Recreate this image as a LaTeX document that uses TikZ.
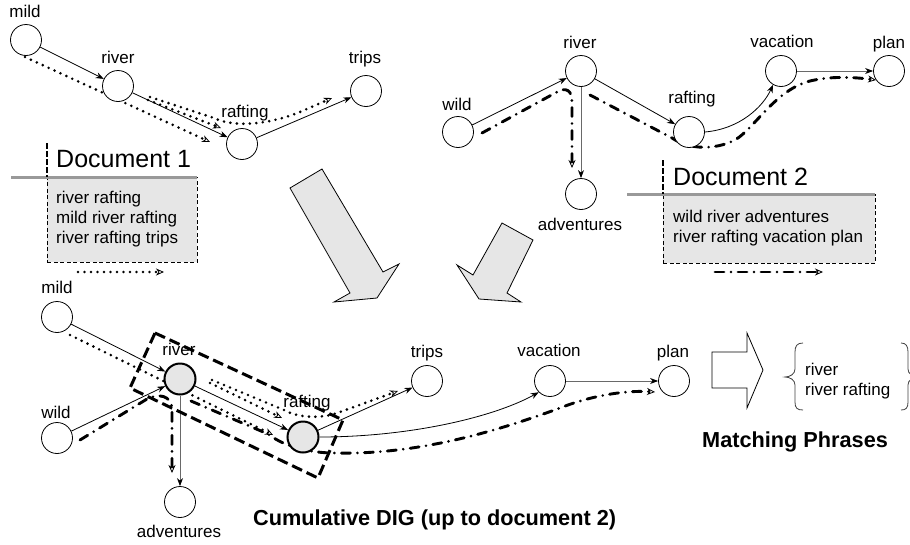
\documentclass[tikz,border=0pt]{standalone}
\usepackage{fontspec}
\setmainfont{Liberation Sans}
\usetikzlibrary{arrows.meta,calc}
\pgfdeclarelayer{edges}
\pgfsetlayers{edges,main}
\definecolor{panel}{RGB}{230,230,230}
\definecolor{rulegray}{RGB}{153,153,153}
\definecolor{edgegray}{RGB}{105,105,105}
\begin{document}
\begin{tikzpicture}[x=1pt,y=-1pt,
  word/.style={circle,draw,fill=white,line width=0.8pt,minimum size=31pt,inner sep=0pt},
  hot/.style={word,fill=panel,line width=2pt},
  lbl/.style={font=\fontsize{17}{20}\selectfont,inner sep=0pt,anchor=base},
  txt/.style={font=\fontsize{17}{20}\selectfont,inner sep=0pt,anchor=base west},
  doctitle/.style={font=\fontsize{25}{30}\selectfont,inner sep=0pt,anchor=base west},
  caption/.style={font=\bfseries\fontsize{21.7}{26}\selectfont,inner sep=0pt,anchor=base west},
  link/.style={line width=0.8pt,-{Stealth[length=8pt,width=6pt,inset=2.5pt,color=black]}},
  glink/.style={link,draw=edgegray},
  opentip/.style={-{Stealth[open,length=8pt,width=7pt,inset=2.5pt,line width=0.8pt,fill=white]}},
  dotp/.style={opentip,line width=2.9pt,line cap=round,dash pattern=on 0pt off 6.5pt},
  dashdotp/.style={opentip,line width=2.9pt,line cap=round,dash pattern=on 9pt off 7pt on 0pt off 7pt},
  docbox/.style={fill=panel,draw,line width=0.7pt,dash pattern=on 4pt off 2.5pt},
  docrule/.style={draw=rulegray,line width=3pt},
  docmark/.style={line width=2.5pt,dash pattern=on 6pt off 2pt},
  frame/.style={line width=3pt,dash pattern=on 11pt off 5pt},
  bigarrow/.style={fill=panel,draw,line width=0.8pt,line join=miter},
  bracepath/.style={draw=black!75,line width=0.8pt}]
\useasboundingbox (0,0) rectangle (910,544);

% ---------- document 1 graph ----------
\node[word] (a1) at (26,40) {};
\node[word] (a2) at (118,86) {};
\node[word] (a3) at (242,144) {};
\node[word] (a4) at (366,91) {};
\node[lbl] (a1t) at (25,17) {mild};
\node[lbl] (a2t) at (118,63) {river};
\node[lbl] (a3t) at (245,117) {rafting};
\node[lbl] (a4t) at (365,63) {trips};

% ---------- document 1 panel ----------
\node[docbox,anchor=north west,minimum width=150pt,minimum height=85pt] (d1box) at (47,177) {};
\draw[docrule] (11,177) -- (197,177);
\coordinate (d1m) at (47,143);
\draw[docmark] (d1m) -- (d1box.north west);
\node[doctitle] (d1title) at (56,167) {Document 1};
\node[txt] (d1a) at (56,203) {river rafting};
\node[txt] (d1b) at (56,223) {mild river rafting};
\node[txt] (d1c) at (56,243) {river rafting trips};
\coordinate (k1s) at (78,272);
\coordinate (k1e) at (164,272);

% ---------- document 2 graph ----------
\node[word] (b1) at (458,132) {};
\node[word] (b2) at (581,71) {};
\node[word] (b3) at (689,132) {};
\node[word] (b4) at (781,71) {};
\node[word] (b5) at (889,71) {};
\node[word] (b6) at (581,194) {};
\node[lbl] (b1t) at (457,110) {wild};
\node[lbl] (b2t) at (580,48) {river};
\node[lbl] (b3t) at (692,103) {rafting};
\node[lbl] (b4t) at (782,47) {vacation};
\node[lbl] (b5t) at (889,48) {plan};
\node[lbl] (b6t) at (580,230) {adventures};

% ---------- document 2 panel ----------
\node[docbox,anchor=north west,minimum width=212pt,minimum height=69pt] (d2box) at (663,194) {};
\draw[docrule] (627,194) -- (875,194);
\coordinate (d2m) at (663,160);
\draw[docmark] (d2m) -- (d2box.north west);
\node[doctitle] (d2title) at (673,185) {Document 2};
\node[txt] (d2a) at (673,222) {wild river adventures};
\node[txt] (d2b) at (673,242) {river rafting vacation plan};
\coordinate (k2s) at (715,272);
\coordinate (k2e) at (823,272);

% ---------- merge arrows ----------
\draw[bigarrow] (290,188) -- (322,169) -- (383,272) -- (399,264) -- (377,298) -- (334,302) -- (350,293) -- cycle;
\draw[bigarrow] (457,265) -- (473,275) -- (502,223) -- (533,240) -- (507,293) -- (521,302) -- (479,299) -- cycle;

% ---------- cumulative graph ----------
\node[word] (c1) at (57,317) {};
\node[word] (c2) at (57,438) {};
\node[hot]  (c3) at (180,379) {};
\node[hot]  (c4) at (303,437) {};
\node[word] (c5) at (180,502) {};
\node[word] (c6) at (427,381) {};
\node[word] (c7) at (550,381) {};
\node[word] (c8) at (674,381) {};
\node[lbl] (c1t) at (57,293) {mild};
\node[lbl] (c2t) at (56,418) {wild};
\node[lbl] (c3t) at (179,355) {river};
\node[lbl] (c4t) at (307,407) {rafting};
\node[lbl] (c5t) at (179,537) {adventures};
\node[lbl] (c6t) at (427,357) {trips};
\node[lbl] (c7t) at (549,356) {vacation};
\node[lbl] (c8t) at (673,357) {plan};
\draw[frame] (155,333) -- (343,420) -- (318,478) -- (130,388) -- cycle;
\node[caption] (cumcap) at (253,525) {Cumulative DIG (up to document 2)};

% ---------- matching phrases ----------
\draw[line width=0.8pt,fill=white,line join=miter] (712,352) -- (747,352) -- (747,333) -- (763,370) -- (747,408) -- (747,388) -- (712,388) -- cycle;
\draw[bracepath] (803,343) .. controls (797,343) and (795,346) .. (795,352) -- (795,369)
  .. controls (795,374) and (790,377) .. (785,377) .. controls (790,377) and (795,380) .. (795,385)
  -- (795,402) .. controls (795,408) and (797,410) .. (803,410);
\draw[bracepath] (901,343) .. controls (906,343) and (908,346) .. (908,352) -- (908,369)
  .. controls (908,374) and (913,377) .. (918,377) .. controls (913,377) and (908,380) .. (908,385)
  -- (908,402) .. controls (908,408) and (906,410) .. (901,410);
\node[txt] (m1) at (805,375) {river};
\node[txt] (m2) at (805,395) {river rafting};
\node[caption] (mcap) at (702,447) {Matching Phrases};

% ---------- phrase end points ----------
\coordinate (p1s) at (25,57);   \coordinate (p1e) at (210,142);
\coordinate (p2s) at (148,100); \coordinate (p2e) at (221,128);
\coordinate (p3s) at (150,97);  \coordinate (p3e) at (332,98);
\coordinate (p4s) at (482,133); \coordinate (p4e) at (572,168);
\coordinate (p5s) at (590,95);  \coordinate (p5e) at (876,80);
\coordinate (q1s) at (70,335);  \coordinate (q1e) at (273,435);
\coordinate (q2s) at (210,383); \coordinate (q2e) at (282,418);
\coordinate (q3s) at (212,380); \coordinate (q3e) at (398,391);
\coordinate (q4s) at (80,440);  \coordinate (q4e) at (172,473);
\coordinate (q5s) at (191,401); \coordinate (q5e) at (655,392);

\begin{pgfonlayer}{edges}
  % document 1 edges and phrases
  \draw[link] (a1) -- (a2);
  \draw[link] (a2) -- (a3);
  \draw[link] (a3) -- (a4);
  \draw[dotp] (p1s) -- (p1e);
  \draw[dotp] (p2s) -- (p2e);
  \draw[dotp] (p3s) -- (214,118) .. controls (230,126) and (262,127) .. (300,112) -- (p3e);
  \draw[dotp] (k1s) -- (k1e);
  % document 2 edges and phrases
  \draw[link] (b1) -- (b2);
  \draw[link] (b2) -- (b3);
  \draw[glink] (b2) -- (b6);
  \draw[link] (b3.east) .. controls +(35,-3) and +(-10,22) .. (b4.240);
  \draw[glink] (b4) -- (b5);
  \draw[dashdotp] (p4s) -- (557,92) .. controls (566,87) and (572,90) .. (572,102) -- (p4e);
  \draw[dashdotp] (p5s) -- (672,138) .. controls (690,150) and (715,150) .. (735,140)
     .. controls (755,128) and (775,90) .. (810,81) .. controls (835,75) and (860,78) .. (p5e);
  \draw[dashdotp] (k2s) -- (k2e);
  % cumulative edges and phrases
  \draw[link] (c1) -- (c3);
  \draw[link] (c2) -- (c3);
  \draw[link] (c3) -- (c4);
  \draw[glink] (c3) -- (c5);
  \draw[link] (c4) -- (c6);
  \draw[link] (c4.east) .. controls +(90,0) and +(-45,25) .. (c7.225);
  \draw[glink] (c7) -- (c8);
  \draw[dotp] (q1s) -- (q1e);
  \draw[dotp] (q2s) -- (q2e);
  \draw[dotp] (q3s) -- (284,410) .. controls (296,417) and (320,420) .. (340,412) -- (q3e);
  \draw[dashdotp] (q4s) -- (147,399) .. controls (158,393) and (172,395) .. (172,410) -- (q4e);
  \draw[dashdotp] (q5s) -- (268,434) .. controls (285,447) and (310,453) .. (335,453)
     .. controls (420,455) and (500,430) .. (560,408) .. controls (590,396) and (625,390) .. (q5e);
\end{pgfonlayer}
\end{tikzpicture}
\end{document}
